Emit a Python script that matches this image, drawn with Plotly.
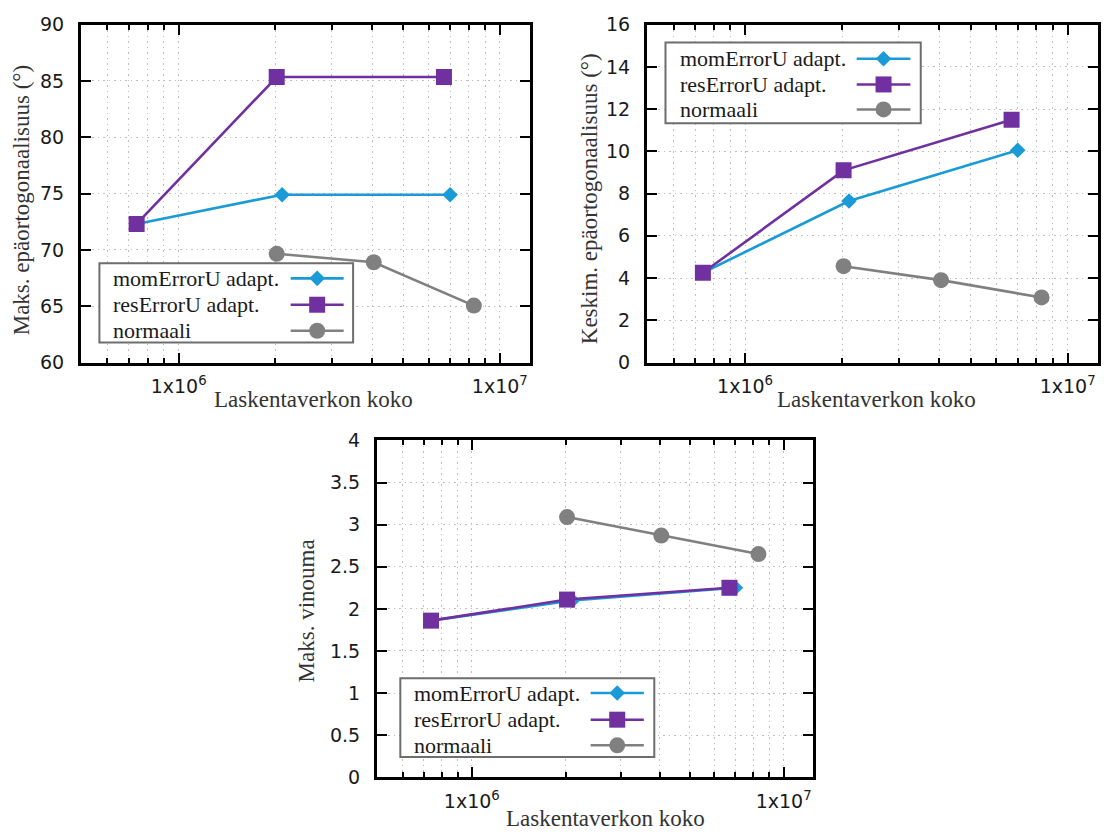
import math
import plotly.graph_objects as go

# ---------------- data ----------------
series_names = ["momErrorU adapt.", "resErrorU adapt.", "normaali"]

mesh_mom = [7.4e5, 2.1e6, 7.0e6]
mesh_res = [7.4e5, 2.02e6, 6.7e6]
mesh_norm = [2.02e6, 4.05e6, 8.3e6]

max_nonorth_mom = [72.3, 74.9, 74.9]
max_nonorth_res = [72.3, 85.35, 85.35]
max_nonorth_norm = [69.65, 68.9, 65.05]

mean_nonorth_mom = [4.25, 7.65, 10.05]
mean_nonorth_res = [4.25, 9.1, 11.5]
mean_nonorth_norm = [4.56, 3.9, 3.08]

max_skew_mom = [1.86, 2.1, 2.25]
max_skew_res = [1.86, 2.11, 2.25]
max_skew_norm = [3.09, 2.87, 2.65]

x_tick_vals = [1e6, 1e7]
x_tick_text = ["1x10<sup>6</sup>", "1x10<sup>7</sup>"]
x_minor_vals = [6e5, 7e5, 8e5, 9e5, 2e6, 3e6, 4e6, 5e6, 6e6, 7e6, 8e6, 9e6]

x_title = "Laskentaverkon koko"
y_titles = ["Maks. epäortogonaalisuus (°)", "Keskim. epäortogonaalisuus (°)", "Maks. vinouma"]

# ---------------- style ----------------
W, H = 1109, 836
colors = ["#1a9ad6", "#7030a0", "#808080"]
symbols = ["diamond", "square", "circle"]
msizes = [12, 16, 16]
LW = 2.6
TICKFONT = dict(family="DejaVu Sans", size=19, color="#1a1a1a")
SERIF = "Liberation Serif"
GRID = "#bdbdbd"
GDASH = "1.5px,4px"

xrange_log = [5.696, 7.094]

panels = [
    dict(xd=[81 / W, 530 / W], yd=[1 - 361 / H, 1 - 14 / H],
         yr=[60, 90], dt=5,
         ys=[max_nonorth_mom, max_nonorth_res, max_nonorth_norm],
         leg=dict(box=[0.041, 0.606, 0.059, 0.294], tx=0.0666,
                  rows=[0.249, 0.171, 0.094], line=[0.467, 0.585])),
    dict(xd=[647 / W, 1098 / W], yd=[1 - 361 / H, 1 - 14 / H],
         yr=[0, 16], dt=2,
         ys=[mean_nonorth_mom, mean_nonorth_res, mean_nonorth_norm],
         leg=dict(box=[0.041, 0.607, 0.708, 0.947], tx=0.0677,
                  rows=[0.899, 0.823, 0.749], line=[0.465, 0.584])),
    dict(xd=[377 / W, 813 / W], yd=[1 - 787 / H, 1 - 441 / H],
         yr=[0, 4], dt=0.5,
         ys=[max_skew_mom, max_skew_res, max_skew_norm],
         leg=dict(box=[0.0535, 0.636, 0.060, 0.294], tx=0.081,
                  rows=[0.250, 0.171, 0.095], line=[0.490, 0.612])),
]

# (x, y, yanchor, yshift)
xtitle_pos = [(313 / W, 1 - 399 / H, "middle", 0), (876 / W, 1 - 399 / H, "middle", 0),
              (605 / W, 0.0, "bottom", -7)]
ytitle_pos = [(21.4 / W, 1 - 194 / H), (589.7 / W, 1 - 192.6 / H), (306 / W, 1 - 616.7 / H)]

meshes = [mesh_mom, mesh_res, mesh_norm]

fig = go.Figure()
shapes = []
annotations = []

for i, p in enumerate(panels):
    sfx = "" if i == 0 else str(i + 1)
    xa, ya = "x" + sfx, "y" + sfx
    for k in range(3):
        fig.add_trace(go.Scatter(
            x=meshes[k], y=p["ys"][k], xaxis=xa, yaxis=ya,
            mode="lines+markers", name=series_names[k], showlegend=False,
            line=dict(color=colors[k], width=LW),
            marker=dict(symbol=symbols[k], size=msizes[k], color=colors[k]),
        ))
    axis_common = dict(showline=True, linecolor="black", linewidth=3,
                       mirror="ticks", ticks="inside", tickwidth=2,
                       tickcolor="black", zeroline=False,
                       showgrid=True, gridcolor=GRID, griddash=GDASH, gridwidth=1,
                       tickfont=TICKFONT)
    fig.layout["xaxis" + sfx] = dict(
        domain=p["xd"], anchor=ya, type="log", range=xrange_log,
        tickmode="array", tickvals=x_tick_vals, ticktext=x_tick_text,
        ticklen=10, ticklabelstandoff=5,
        minor=dict(tickmode="array", tickvals=x_minor_vals, ticks="inside",
                   ticklen=5, tickwidth=2, tickcolor="black",
                   showgrid=True, gridcolor=GRID, griddash=GDASH, gridwidth=1),
        **axis_common)
    fig.layout["yaxis" + sfx] = dict(
        domain=p["yd"], anchor=xa, range=p["yr"], dtick=p["dt"],
        tick0=p["yr"][0], ticklen=10, ticklabelstandoff=10,
        **axis_common)

    # custom gnuplot-style key
    L = p["leg"]
    xref, yref = xa + " domain", ya + " domain"
    shapes.append(dict(type="rect", xref=xref, yref=yref, layer="above",
                       x0=L["box"][0], x1=L["box"][1], y0=L["box"][2], y1=L["box"][3],
                       fillcolor="white", line=dict(color="#6e6e6e", width=2)))
    for k in range(3):
        ry = L["rows"][k]
        annotations.append(dict(xref=xref, yref=yref, x=L["tx"], y=ry,
                                xanchor="left", yanchor="middle", showarrow=False,
                                text=series_names[k],
                                font=dict(family=SERIF, size=22, color="#1a1a1a")))
        shapes.append(dict(type="line", xref=xref, yref=yref, layer="above",
                           x0=L["line"][0], x1=L["line"][1], y0=ry, y1=ry,
                           line=dict(color=colors[k], width=LW)))
        cx = (L["line"][0] + L["line"][1]) / 2
        common = dict(xref=xref, yref=yref, layer="above", xsizemode="pixel",
                      ysizemode="pixel", xanchor=cx, yanchor=ry,
                      fillcolor=colors[k], line=dict(width=0))
        if symbols[k] == "square":
            shapes.append(dict(type="rect", x0=-8, x1=8, y0=-8, y1=8, **common))
        elif symbols[k] == "circle":
            shapes.append(dict(type="circle", x0=-8, x1=8, y0=-8, y1=8, **common))
        else:
            shapes.append(dict(type="path", path="M 0,-7.8 L 7.8,0 L 0,7.8 L -7.8,0 Z", **common))

    annotations.append(dict(xref="paper", yref="paper", x=xtitle_pos[i][0], y=xtitle_pos[i][1],
                            xanchor="center", yanchor=xtitle_pos[i][2], yshift=xtitle_pos[i][3],
                            showarrow=False, text=x_title, borderpad=0,
                            font=dict(family=SERIF, size=23, color="#333333")))
    annotations.append(dict(xref="paper", yref="paper", x=ytitle_pos[i][0], y=ytitle_pos[i][1],
                            xanchor="center", yanchor="middle", showarrow=False, text=y_titles[i],
                            textangle=-90,
                            font=dict(family=SERIF, size=23, color="#333333")))

fig.update_layout(width=W, height=H, margin=dict(l=0, r=0, t=0, b=0),
                  paper_bgcolor="white", plot_bgcolor="white",
                  shapes=shapes, annotations=annotations, showlegend=False)

fig.write_html("out.html")
